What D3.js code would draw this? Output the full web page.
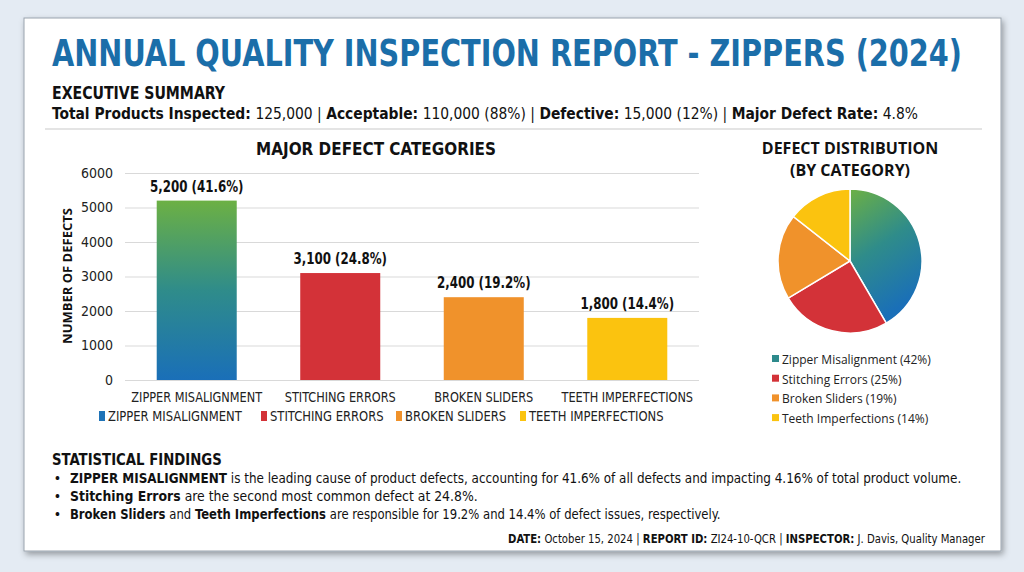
<!DOCTYPE html>
<html><head><meta charset="utf-8">
<script src="https://cdn.jsdelivr.net/npm/d3@7"></script>
<style>
html,body{margin:0;padding:0;background:#e4ebf3;}
svg{display:block;}
</style></head>
<body>
<svg id="chart" width="1024" height="572"></svg>
<script>
// ---- data ----
const categories = ["ZIPPER MISALIGNMENT", "STITCHING ERRORS", "BROKEN SLIDERS", "TEETH IMPERFECTIONS"];
const pieNames = ["Zipper Misalignment", "Stitching Errors", "Broken Sliders", "Teeth Imperfections"];
const defects = [5200, 3100, 2400, 1800];
const sharePct = [41.6, 24.8, 19.2, 14.4];
const piePct = [42, 25, 19, 14];
const yTicks = [0, 1000, 2000, 3000, 4000, 5000, 6000];
const colors = ["#1f73b7", "#d33238", "#f0922b", "#fbc30f"];
const legendZipperColor = "#2d8a8c";

const svg = d3.select("#chart");
const COND = "'DejaVu Sans Condensed','Liberation Sans Narrow',sans-serif";
const WIDE = "'Open Sans','DejaVu Sans',sans-serif";

// horizontally squeeze a text around an anchor x so that it is `w` wide
function squeeze(sel, ax, w){
  const bw = sel.node().getBBox().width;
  const s = Math.min(1, w / bw);
  sel.attr("transform", `translate(${ax},0) scale(${s},1) translate(${-ax},0)`);
}
// rich text made of separate text pieces, fitted into width w
function rich(x, y, parts, w, opts){
  const g = svg.append("g");
  let cx = x;
  parts.forEach(([s,b])=>{
    const t = g.append("text").attr("x",cx).attr("y",y).attr("font-family",opts.font)
      .attr("font-size",opts.size).attr("fill","#111").attr("font-weight",b?"bold":"normal")
      .style("white-space","pre").attr("xml:space","preserve").text(s);
    cx += t.node().getComputedTextLength();
  });
  const total = cx - x;
  const s = w / total;
  const left = opts.anchor === "end" ? x - w : x;
  g.attr("transform", `translate(${left},0) scale(${s},1) translate(${-x},0)`);
  return g;
}

const defs = svg.append("defs");
const f = defs.append("filter").attr("id","shadow").attr("x","-5%").attr("y","-5%").attr("width","110%").attr("height","115%");
f.append("feDropShadow").attr("dx",2).attr("dy",3).attr("stdDeviation",3).attr("flood-color","#000").attr("flood-opacity",0.35);
const g1 = defs.append("linearGradient").attr("id","zipGrad").attr("x1",0).attr("y1",0).attr("x2",0).attr("y2",1);
g1.append("stop").attr("offset","0%").attr("stop-color","#6cb044");
g1.append("stop").attr("offset","50%").attr("stop-color","#2f8c8a");
g1.append("stop").attr("offset","100%").attr("stop-color","#1a6fb8");
const g2 = defs.append("linearGradient").attr("id","zipGradPie").attr("x1",0).attr("y1",0).attr("x2",0.35).attr("y2",1);
g2.append("stop").attr("offset","0%").attr("stop-color","#6cb044");
g2.append("stop").attr("offset","50%").attr("stop-color","#2f8c8a");
g2.append("stop").attr("offset","100%").attr("stop-color","#1a6fb8");

// card
svg.append("rect").attr("x",24).attr("y",18).attr("width",977).attr("height",533)
  .attr("fill","#fff").attr("stroke","#9aa3ad").attr("stroke-width",1).attr("filter","url(#shadow)");

// title
const title = svg.append("text").attr("x",507).attr("y",66).attr("text-anchor","middle")
  .attr("font-family",COND).attr("font-weight","bold").attr("font-size",38).attr("fill","#1b6ea9")
  .text("ANNUAL QUALITY INSPECTION REPORT - ZIPPERS (2024)");
squeeze(title, 507, 910);

const es = svg.append("text").attr("x",52).attr("y",99).attr("font-family",COND).attr("font-weight","bold")
  .attr("font-size",17).attr("fill","#111").text("EXECUTIVE SUMMARY");
squeeze(es, 52, 174);

rich(52, 119, [["Total Products Inspected:",1],[" 125,000 | ",0],["Acceptable:",1],[" 110,000 (88%) | ",0],["Defective:",1],[" 15,000 (12%) | ",0],["Major Defect Rate:",1],[" 4.8%",0]], 866, {font:COND,size:15});

svg.append("line").attr("x1",45).attr("x2",982).attr("y1",129).attr("y2",129).attr("stroke","#c9c9c9").attr("stroke-width",1.2);

// ---- bar chart ----
const x = d3.scaleBand().domain(categories).range([125,699]).paddingInner(0.4425).paddingOuter(0.221);
const y = d3.scaleLinear().domain([0,6000]).range([380,173]);

const bt = svg.append("text").attr("x",376).attr("y",155).attr("text-anchor","middle").attr("font-family",COND)
  .attr("font-weight","bold").attr("font-size",17).attr("fill","#111").text("MAJOR DEFECT CATEGORIES");
squeeze(bt, 376, 240);

const yAxis = svg.append("g").attr("transform","translate(125,0)")
  .call(d3.axisLeft(y).tickValues(yTicks).tickSize(-574).tickPadding(12).tickFormat(d3.format("d")));
yAxis.select(".domain").remove();
yAxis.selectAll(".tick line").attr("stroke","#d9d9d9");
yAxis.selectAll(".tick text").attr("font-family",COND).attr("font-size",14).attr("fill","#222");

svg.append("text").attr("transform","translate(72,276) rotate(-90)").attr("text-anchor","middle")
  .attr("font-family",WIDE).attr("font-weight","bold").attr("font-size",13).attr("fill","#111")
  .text("NUMBER OF DEFECTS");

svg.selectAll("rect.bar").data(defects).enter().append("rect").attr("class","bar")
  .attr("x",(d,i)=>x(categories[i])).attr("width",x.bandwidth())
  .attr("y",d=>y(d)).attr("height",d=>y(0)-y(d))
  .attr("fill",(d,i)=>i===0?"url(#zipGrad)":colors[i]);

svg.selectAll("text.val").data(defects).enter().append("text").attr("class","val")
  .attr("x",(d,i)=>x(categories[i])+x.bandwidth()/2).attr("y",d=>y(d)-9)
  .attr("text-anchor","middle").attr("font-family",COND).attr("font-weight","bold").attr("font-size",15).attr("fill","#111")
  .text((d,i)=>d3.format(",")(d)+" ("+sharePct[i].toFixed(1)+"%)")
  .each(function(d,i){ const s=d3.select(this); squeeze(s, x(categories[i])+x.bandwidth()/2, s.node().getBBox().width*0.88); });

const xAxis = svg.append("g").attr("transform","translate(0,380)")
  .call(d3.axisBottom(x).tickSize(0).tickPadding(12));
xAxis.select(".domain").remove();
xAxis.selectAll(".tick text").attr("font-family",COND).attr("font-size",14).attr("fill","#222")
  .each(function(){ const s=d3.select(this); squeeze(s, 0, s.node().getBBox().width*0.9); });

// bar legend
const legX = [99, 261, 396, 520];
const lg = svg.selectAll("g.bleg").data(categories).enter().append("g").attr("class","bleg")
  .attr("transform",(d,i)=>`translate(${legX[i]},421)`);
lg.append("rect").attr("x",0).attr("y",-10).attr("width",6).attr("height",10).attr("fill",(d,i)=>colors[i]);
lg.append("text").attr("x",9).attr("y",0).attr("font-family",COND).attr("font-size",14).attr("fill","#222").text(d=>d)
  .each(function(){ const s=d3.select(this); squeeze(s, 9, s.node().getBBox().width*0.92); });

// ---- pie chart ----
svg.append("text").attr("x",850).attr("y",154).attr("text-anchor","middle").attr("font-family",WIDE)
  .attr("font-weight","bold").attr("font-size",16).attr("fill","#111").text("DEFECT DISTRIBUTION");
svg.append("text").attr("x",850).attr("y",176).attr("text-anchor","middle").attr("font-family",WIDE)
  .attr("font-weight","bold").attr("font-size",16).attr("fill","#111").text("(BY CATEGORY)");

const pie = d3.pie().sort(null).value(d=>d);
const arc = d3.arc().innerRadius(0).outerRadius(72);
const pg = svg.append("g").attr("transform","translate(850,261)");
pg.selectAll("path").data(pie(defects)).enter().append("path").attr("d",arc)
  .attr("fill",(d,i)=>i===0?"url(#zipGradPie)":colors[i]).attr("stroke","#fff").attr("stroke-width",1.5);

const pl = svg.selectAll("g.pleg").data(pieNames).enter().append("g").attr("class","pleg")
  .attr("transform",(d,i)=>`translate(772,${364+i*19.7})`);
pl.append("rect").attr("x",0).attr("y",-9).attr("width",7).attr("height",7).attr("fill",(d,i)=>i===0?legendZipperColor:colors[i]);
pl.append("text").attr("x",10).attr("y",0).attr("font-family",WIDE).attr("font-size",12).attr("fill","#222")
  .text((d,i)=>d+" ("+piePct[i]+"%)");

// ---- statistical findings ----
const sf = svg.append("text").attr("x",52).attr("y",465).attr("font-family",COND).attr("font-weight","bold")
  .attr("font-size",16).attr("fill","#111").text("STATISTICAL FINDINGS");
squeeze(sf, 52, 170);

const findings = [
  {parts:[["ZIPPER MISALIGNMENT",1],[" is the leading cause of product defects, accounting for 41.6% of all defects and impacting 4.16% of total product volume.",0]], len:892},
  {parts:[["Stitching Errors",1],[" are the second most common defect at 24.8%.",0]], len:408},
  {parts:[["Broken Sliders",1],[" and ",0],["Teeth Imperfections",1],[" are responsible for 19.2% and 14.4% of defect issues, respectively.",0]], len:651}
];
findings.forEach((fd,i)=>{
  const yy = 483 + i*18;
  svg.append("text").attr("x",55).attr("y",yy).attr("font-family",WIDE).attr("font-weight","bold").attr("font-size",13).attr("fill","#111").text("•");
  rich(70, yy, fd.parts, fd.len, {font:COND,size:14});
});

rich(985, 543, [["DATE:",1],[" October 15, 2024 | ",0],["REPORT ID:",1],[" ZI24-10-QCR | ",0],["INSPECTOR:",1],[" J. Davis, Quality Manager",0]], 477, {font:COND,size:12.5,anchor:"end"});
</script>
</body></html>
